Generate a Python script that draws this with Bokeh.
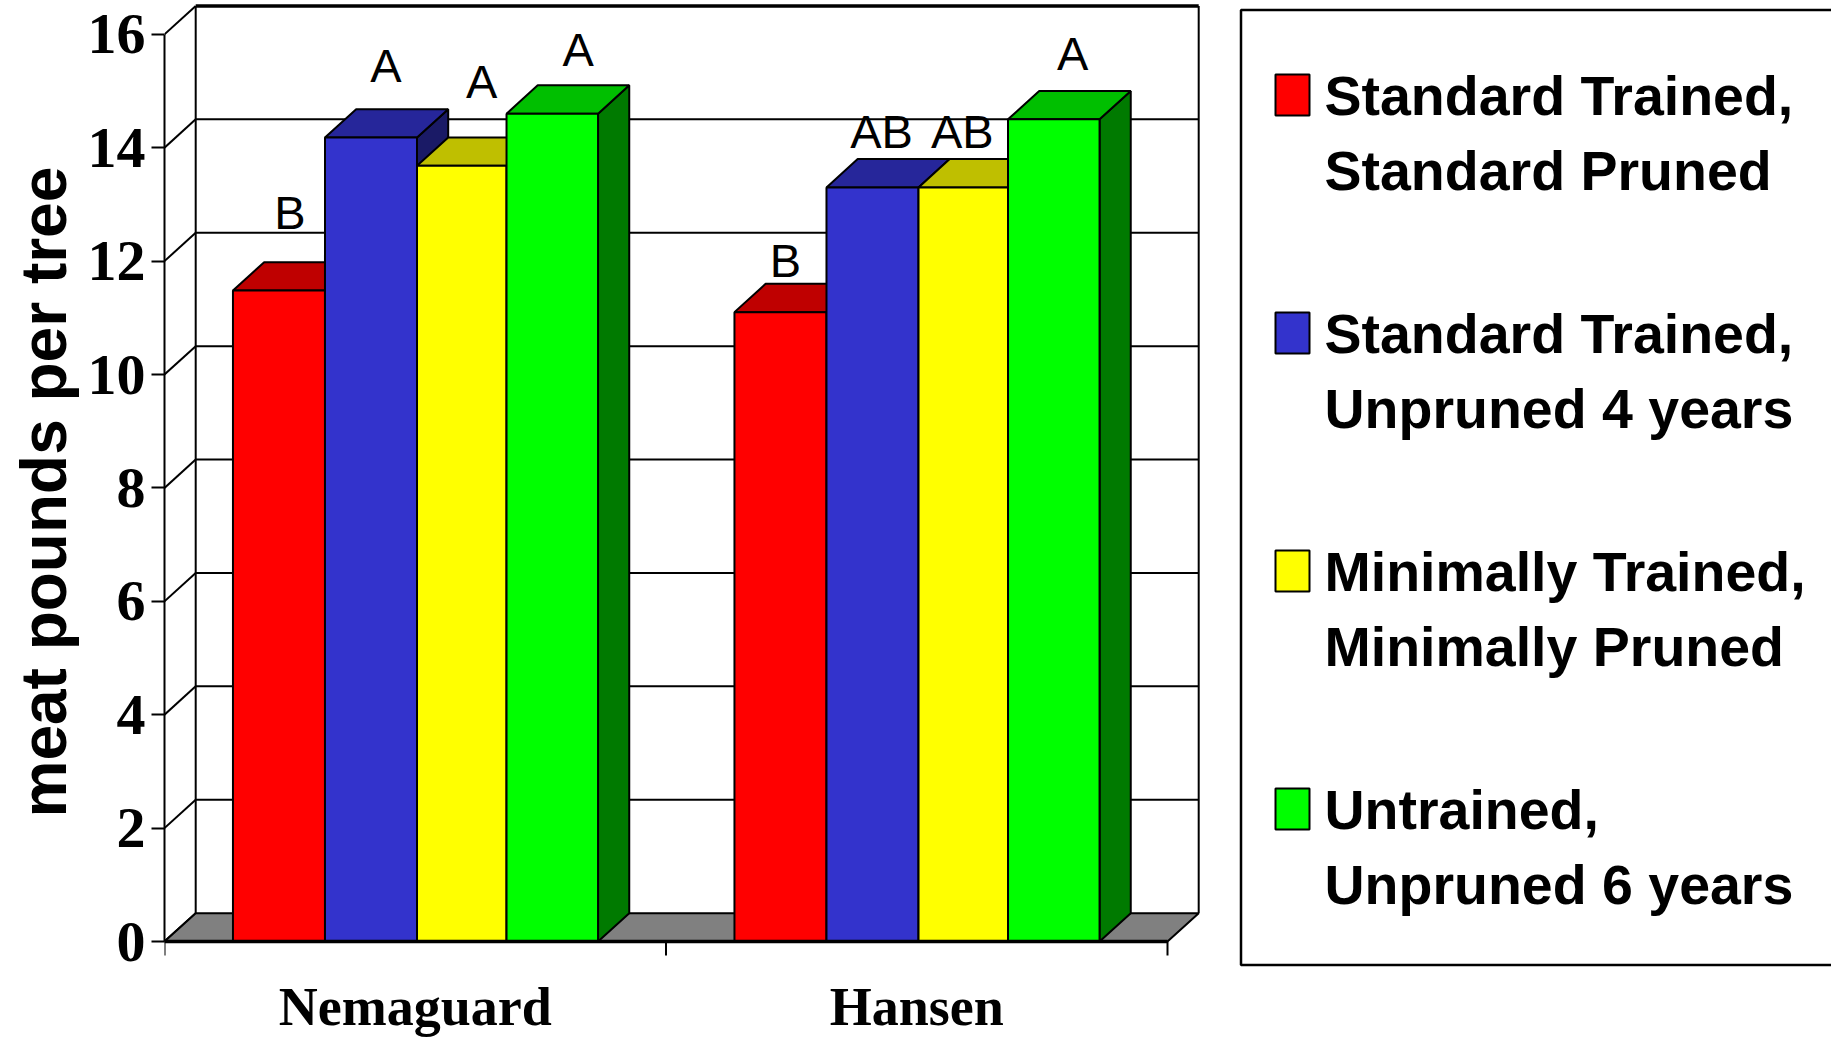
from bokeh.plotting import figure
from bokeh.embed import file_html
from bokeh.resources import INLINE
from bokeh.models import Range1d, LinearAxis, FixedTicker, Title
from bokeh.core.properties import value

groups = ["Nemaguard", "Hansen"]
series = ["Standard Trained,\nStandard Pruned", "Standard Trained,\nUnpruned 4 years",
          "Minimally Trained,\nMinimally Pruned", "Untrained,\nUnpruned 6 years"]
red = [11.48, 11.1]
blue = [14.18, 13.3]
yellow = [13.68, 13.3]
green = [14.6, 14.5]
letters = [["B", "B"], ["A", "AB"], ["A", "AB"], ["A", "A"]]
y_ticks = [0, 2, 4, 6, 8, 10, 12, 14, 16]
x_ticks = [0, 1, 2]
group_centres = [0.5, 1.5]

front = ["#ff0000", "#3333cc", "#ffff00", "#00ff00"]
top = ["#bf0000", "#26269a", "#bfbf00", "#00bf00"]
side = ["#800000", "#1a1a66", "#808000", "#007a00"]
label_dx = [[11, 5], [15, 9], [20, -1], [26, 19]]
label_dy = [[78, 52], [72, 56], [84, 56], [64, 66]]

W, H = 1831, 1041
L = 164
BASE = 941      # pixel row of value 0
XU = 501.5      # px per group
YU = 56.7       # px per value unit
DX, DY = 31.2 / XU, 0.5
GAPS = [0, 0.1835, 0.367, 0.5455]
WIDTHS = [0.1835, 0.1835, 0.1785, 0.1825]
X0 = 0.1365
WALL_R = 2.0 + DX


def px(x):  # reference pixel column to data
    return (x - L) / XU


def py(y):  # reference pixel row to data
    return (BASE - y) / YU


p = figure(width=W, height=H, output_backend="svg", toolbar_location=None,
           x_range=Range1d(0, px(W)), y_range=Range1d(py(H), py(0)),
           min_border_left=L, min_border_right=0, min_border_top=0, min_border_bottom=0,
           x_axis_type=None, y_axis_type=None, outline_line_color=None)
p.grid.visible = False

# Walls and floor
back_w = [t + DY for t in y_ticks[1:-1]]
p.segment(x0=[DX] * len(back_w), y0=back_w, x1=[WALL_R] * len(back_w), y1=back_w,
          line_color="black", line_width=2)
p.segment(x0=[0] * len(y_ticks), y0=y_ticks, x1=[DX] * len(y_ticks), y1=[t + DY for t in y_ticks],
          line_color="black", line_width=2)
p.segment(x0=[DX], y0=[16 + DY], x1=[WALL_R], y1=[16 + DY], line_color="black", line_width=3.5)
p.segment(x0=[DX, WALL_R], y0=[DY, DY], x1=[DX, WALL_R], y1=[16 + DY, 16 + DY],
          line_color="black", line_width=2)
p.patch([0, DX, WALL_R, 2.0], [0, DY, DY, 0], fill_color="#808080", line_color="black", line_width=2)

# Bars
vals = [red, blue, yellow, green]
for s in range(4):
    for g in range(2):
        x0 = g + X0 + GAPS[s]
        x1 = x0 + WIDTHS[s]
        v = vals[s][g]
        p.patch([x1, x1 + DX, x1 + DX, x1], [0, DY, v + DY, v], fill_color=side[s],
                line_color="black", line_width=2)
        p.patch([x0, x0 + DX, x1 + DX, x1], [v, v + DY, v + DY, v], fill_color=top[s],
                line_color="black", line_width=2)
    xs0 = [g + X0 + GAPS[s] for g in range(2)]
    xs1 = [x + WIDTHS[s] for x in xs0]
    p.quad(left=xs0, right=xs1, bottom=[0, 0], top=vals[s], fill_color=front[s],
           line_color="black", line_width=2)
    p.text(x=[(a + b) / 2 for a, b in zip(xs0, xs1)], y=vals[s], text=letters[s],
           x_offset=label_dx[s], y_offset=[-d for d in label_dy[s]],
           text_font=value("Liberation Sans"), text_font_size="47px", text_color="black",
           text_align="center", text_baseline="alphabetic")

# Y axis
ya = LinearAxis(ticker=FixedTicker(ticks=y_ticks), bounds=(0, 16), axis_line_color="black",
                axis_line_width=2, major_tick_line_width=2, major_tick_out=13, major_tick_in=0,
                minor_tick_line_color=None, major_label_standoff=6,
                major_label_text_font="Liberation Serif", major_label_text_font_style="bold",
                major_label_text_font_size="58px", major_label_text_color="black")
p.add_layout(ya, "left")
p.add_layout(Title(text="meat pounds per tree", align="left", offset=224, standoff=10,
                   text_font="Liberation Sans", text_font_style="bold", text_font_size="64px",
                   text_color="black"), "left")

# X axis baseline, ticks and group names (the legend panel runs lower than the baseline,
# so the plot area reaches the bottom of the page)
p.segment(x0=[0], y0=[0], x1=[2], y1=[0], line_color="black", line_width=3.5)
p.segment(x0=x_ticks, y0=[0] * 3, x1=x_ticks, y1=[py(BASE + 14)] * 3, line_color="black", line_width=2)
p.text(x=group_centres, y=[0, 0], text=groups, y_offset=[65, 65],
       text_font=value("Liberation Serif"), text_font_style="bold", text_font_size="54px",
       text_color="black", text_align="center", text_baseline="alphabetic")

# Legend panel
p.quad(left=[px(1240.5)], right=[px(1840)], bottom=[py(964.5)], top=[py(9.5)],
       fill_color="white", line_color="black", line_width=2.5)
for i, name in enumerate(series):
    line1, line2 = name.split("\n")
    pitch = 238 * i
    p.quad(left=[px(1275)], right=[px(1309)], bottom=[py(115 + pitch)], top=[py(74 + pitch)],
           fill_color=front[i], line_color="black", line_width=2)
    p.text(x=[px(1324)] * 2, y=[py(95.7 + pitch), py(170.7 + pitch)], text=[line1, line2],
           text_font=value("Liberation Sans"), text_font_style="bold", text_font_size="55.5px",
           text_color="black", text_align="left", text_baseline="alphabetic")

open("out.html", "w").write(file_html(p, INLINE))
